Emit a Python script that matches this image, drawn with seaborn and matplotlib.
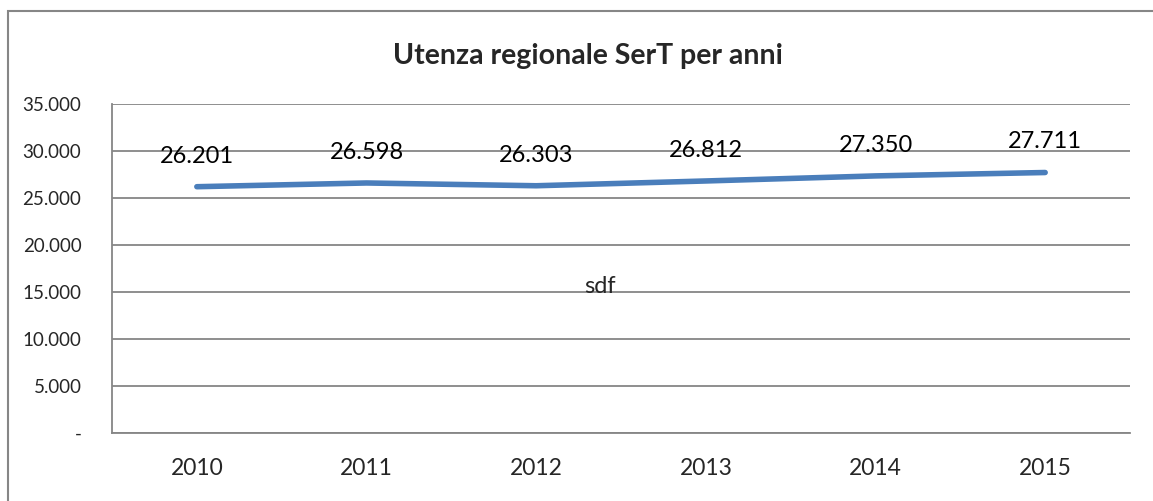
import seaborn as sns
import matplotlib.pyplot as plt
import pandas as pd
from matplotlib.patches import Rectangle
from matplotlib.ticker import FuncFormatter

# Dati
anni = ["2010", "2011", "2012", "2013", "2014", "2015"]
utenza = [26201, 26598, 26303, 26812, 27350, 27711]
etichette = ["26.201", "26.598", "26.303", "26.812", "27.350", "27.711"]
titolo = "Utenza regionale SerT per anni"

sns.set_theme(style="white")
plt.rcParams["font.family"] = ["Lato", "DejaVu Sans"]

df = pd.DataFrame({"anno": anni, "utenza": utenza})

fig = plt.figure(figsize=(11.53, 5.01), dpi=100)
ax = fig.add_axes([112 / 1153, 1 - 433 / 501, 1018 / 1153, 329 / 501])

sns.lineplot(data=df, x="anno", y="utenza", ax=ax, color="#4A7EBB",
             linewidth=4, solid_capstyle="round", sort=False)

for i, (v, lab) in enumerate(zip(utenza, etichette)):
    ax.annotate(lab, (i, v), xytext=(0, 22), textcoords="offset points",
                ha="center", va="center", fontsize=17, color="black")

ax.set_xlim(-0.5, 5.5)
ax.set_ylim(0, 35000)
ax.set_yticks(range(0, 35001, 5000))
ax.yaxis.set_major_formatter(FuncFormatter(
    lambda v, p: "-" if v == 0 else f"{int(v):,}".replace(",", ".")))
ax.grid(axis="y", color="#868686", linewidth=1.3)
ax.set_axisbelow(True)
ax.set_xlabel("")
ax.set_ylabel("")
for s in ["top", "right"]:
    ax.spines[s].set_visible(False)
for s in ["left", "bottom"]:
    ax.spines[s].set_color("#868686")
    ax.spines[s].set_linewidth(1.3)
ax.tick_params(axis="y", length=0, pad=22, labelsize=13.5)
ax.tick_params(axis="x", length=0, pad=18, labelsize=16.5)

ax.text(0.479, 0.444, "sdf", transform=ax.transAxes, ha="center",
        va="center", fontsize=17)

fig.text(588 / 1153, 1 - 56 / 501, titolo, ha="center", va="center",
         fontsize=20.5, fontweight="bold")

# cornice esterna
fig.patches.append(Rectangle((8 / 1153, -0.1), 1.2, 1 - 10.5 / 501 + 0.1,
                             transform=fig.transFigure, fill=False,
                             edgecolor="#868686", linewidth=1.5))

fig.savefig("out.png", dpi=100)
